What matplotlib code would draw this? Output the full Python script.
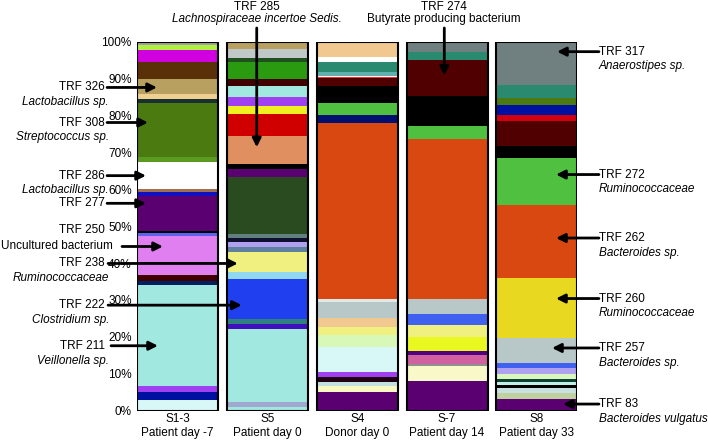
import matplotlib
matplotlib.use('Agg')
import matplotlib.pyplot as plt

plt.rcParams['font.family'] = ['Liberation Sans', 'DejaVu Sans']

# samples (x axis)
samples = ['S1-3', 'S5', 'S4', 'S-7', 'S8']
days = ['Patient day -7', 'Patient day 0', 'Donor day 0', 'Patient day 14', 'Patient day 33']

# relative abundance (%) of the TRFs in each sample, stacked bottom -> top
s13_vals = [3.0, 2.1, 1.7, 21.5, 0.6, 5.2, 1.1, 1.6, 2.9, 0.5, 7.2, 0.7, 0.7, 9.5,
            0.9, 0.9, 7.4, 1.2, 14.7, 1.1, 1.3, 4.1, 4.5, 3.4, 1.3, 0.9]
s13_cols = ['#d8f8f8', '#0010a0', '#a040f0', '#a0e8e0', '#000000', '#a0e8e0', '#002060',
            '#400000', '#e080f0', '#000000', '#e080f0', '#6060f0', '#000000', '#5a0070',
            '#1010c0', '#a07050', '#ffffff', '#5a9a20', '#4a7a10', '#183030', '#f0d090',
            '#b8a060', '#5a3008', '#d000e0', '#b0f040', '#a0a0a0']

s5_vals = [0.9, 1.4, 19.8, 1.4, 1.3, 10.9, 1.8, 5.4, 1.4, 1.5, 0.9, 1.2, 15.3, 2.3,
           1.3, 7.7, 5.9, 2.1, 2.4, 3.2, 1.8, 4.5, 1.1, 2.5, 2.0]
s5_cols = ['#a0e8e0', '#a0a8d0', '#a0e8e0', '#4010c0', '#308080', '#2040f0', '#90d8f0',
           '#f0f080', '#6080a0', '#b0a0f0', '#101030', '#608080', '#2a4a20', '#5a0070',
           '#000000', '#e09060', '#d00000', '#f0f020', '#a040f0', '#a0e8e0', '#400000',
           '#2a9a10', '#205020', '#c0c8c8', '#b8a060']

s4_vals = [5.0, 1.8, 1.1, 1.1, 1.6, 6.7, 3.2, 2.3, 2.2, 4.4, 0.9, 47.7, 2.1, 3.3,
           4.5, 2.2, 0.4, 0.3, 1.1, 2.7, 1.2, 4.2]
s4_cols = ['#5a0070', '#f8f8c0', '#c0e0e0', '#200010', '#a040f0', '#d8f8f8', '#d8f8b8',
           '#f0f080', '#f0c890', '#b8c8c8', '#e0e8e8', '#d84810', '#001070', '#50c040',
           '#000000', '#500000', '#f03030', '#ffffff', '#60b0b0', '#2a8a70', '#ffffff',
           '#f0c890']

s7_vals = [8.1, 4.1, 0.4, 2.5, 1.2, 3.8, 3.1, 3.0, 4.1, 43.3, 3.5, 8.3, 9.7, 2.0, 2.9]
s7_cols = ['#5a0070', '#f8f8c8', '#909090', '#d060a0', '#500080', '#e8f820', '#f0f080',
           '#4060f0', '#b8c8c8', '#d84810', '#50c040', '#000000', '#500000', '#2a8a70',
           '#708080']

s8_vals = [3.2, 1.7, 1.2, 0.9, 0.9, 0.6, 1.4, 1.6, 1.5, 6.6, 16.4, 19.7, 12.8, 3.3,
           6.6, 1.8, 2.7, 1.8, 3.6, 11.7]
s8_cols = ['#5a0070', '#c0d0a0', '#c8e0e0', '#000000', '#c0f0e8', '#104030', '#d8f8c0',
           '#b0a0f0', '#4060f0', '#b8c8c8', '#e8d820', '#d84810', '#50c040', '#000000',
           '#500000', '#d00010', '#0010a0', '#4a7a10', '#2a8a70', '#708080']

bar_vals = [s13_vals, s5_vals, s4_vals, s7_vals, s8_vals]
bar_cols = [s13_cols, s5_cols, s4_cols, s7_cols, s8_cols]

# annotated TRFs on the left: name, taxon, level (%)
left_trf = ['TRF 326', 'TRF 308', 'TRF 286', 'TRF 277', 'TRF 250', 'TRF 238', 'TRF 222', 'TRF 211']
left_taxon = ['Lactobacillus sp.', 'Streptococcus sp.', 'Lactobacillus sp.', '',
              'Uncultured bacterium', 'Ruminococcaceae', 'Clostridium sp.', 'Veillonella sp.']
left_y = [87.6, 78.1, 63.7, 56.2, 44.5, 39.9, 28.6, 17.6]

# annotated TRFs on the right (all in S8)
right_trf = ['TRF 317', 'TRF 272', 'TRF 262', 'TRF 260', 'TRF 257', 'TRF 83']
right_taxon = ['Anaerostipes sp.', 'Ruminococcaceae', 'Bacteroides sp.', 'Ruminococcaceae',
               'Bacteroides sp.', 'Bacteroides vulgatus']
right_y = [97.3, 64.0, 46.8, 30.4, 17.0, 1.8]

# annotated TRFs on top
top_trf = ['TRF 285', 'TRF 274']
top_taxon = ['Lachnospiraceae incertoe Sedis.', 'Butyrate producing bacterium']
top_y = [71.4, 90.8]

W, H = 708, 443
fig = plt.figure(figsize=(W / 100, H / 100), dpi=100)
ax = fig.add_axes([137.3 / W, 1 - 410.7 / H, 440 / W, 369 / H])
ax.set_xlim(-0.45, 4.45)
ax.set_ylim(0, 100)


def px_x(px):
    return (px - 137.3) / 90 - 0.45


def px_y(py):
    return (410.7 - py) / 3.69


width = 0.9
for i in range(len(samples)):
    bottom = 0
    for v, c in zip(bar_vals[i], bar_cols[i]):
        ax.bar(i, v, width=width, bottom=bottom, color=c, linewidth=0)
        bottom += v
    ax.bar(i, 100, width=width, fill=False, edgecolor='black', linewidth=1.5)

for s in ax.spines.values():
    s.set_visible(False)
ax.set_yticks(range(0, 101, 10))
ax.set_yticklabels([f'{t}%' for t in range(0, 101, 10)], fontsize=8.5)
ax.set_xticks(range(len(samples)))
ax.set_xticklabels([f'{s}\n{d}' for s, d in zip(samples, days)], fontsize=8.5, linespacing=1.2)
ax.tick_params(axis='both', length=0)
ax.tick_params(axis='y', pad=4)
ax.tick_params(axis='x', pad=1.5)

arrow = dict(arrowstyle='-|>', lw=2, color='black', mutation_scale=13, shrinkA=0, shrinkB=0)
fs = 8.5
dy = 4.0  # gap between TRF line and taxon line (%)

# left side
tips = [157, 148, 146, 146, 163, 238, 242, 158]
tails = [107, 107, 107, 107, 122, 108, 108, 111]
for k in range(len(left_trf)):
    y = left_y[k]
    ax.annotate('', xy=(px_x(tips[k]), y), xytext=(px_x(tails[k]), y),
                arrowprops=arrow, annotation_clip=False)
    if left_trf[k] == 'TRF 250':
        ax.text(px_x(105), y + dy + 0.5, left_trf[k], ha='right', va='center', fontsize=fs, clip_on=False)
        ax.text(px_x(113), y, left_taxon[k], ha='right', va='center', fontsize=fs, clip_on=False)
    else:
        ax.text(px_x(105), y, left_trf[k], ha='right', va='center', fontsize=fs, clip_on=False)
        if left_taxon[k]:
            ax.text(px_x(109), y - dy, left_taxon[k], ha='right', va='center', fontsize=fs,
                    style='italic', clip_on=False)

# right side
rtips = [558, 557, 557, 557, 553, 564]
for k in range(len(right_trf)):
    y = right_y[k]
    ax.annotate('', xy=(px_x(rtips[k]), y), xytext=(px_x(600), y),
                arrowprops=arrow, annotation_clip=False)
    ax.text(px_x(600), y, right_trf[k], ha='left', va='center', fontsize=fs, clip_on=False)
    ax.text(px_x(600), y - dy, right_taxon[k], ha='left', va='center', fontsize=fs,
            style='italic', clip_on=False)

# top
top_px = [257, 445]
for k in range(len(top_trf)):
    x = px_x(top_px[k])
    ax.annotate('', xy=(x, top_y[k]), xytext=(x, px_y(28)),
                arrowprops=arrow, annotation_clip=False)
    ax.text(x, px_y(7), top_trf[k], ha='center', va='center', fontsize=fs, clip_on=False)
    ax.text(x, px_y(19), top_taxon[k], ha='center', va='center', fontsize=fs,
            style='italic' if k == 0 else 'normal', clip_on=False)

fig.savefig('out.png', dpi=100)
